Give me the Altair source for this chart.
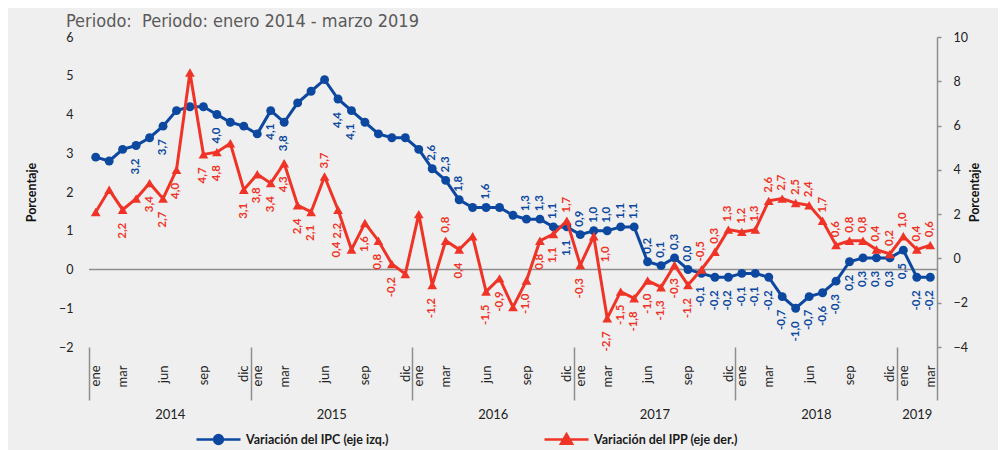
import altair as alt
import pandas as pd

# ---------------- data ----------------
months_es = ["ene", "feb", "mar", "abr", "may", "jun", "jul", "ago", "sep", "oct", "nov", "dic"]
shown_months = ["ene", "mar", "jun", "sep", "dic"]
first_year = 2014

ipc = [2.9, 2.8, 3.1, 3.2, 3.4, 3.7, 4.1, 4.2, 4.2, 4.0, 3.8, 3.7,
       3.5, 4.1, 3.8, 4.3, 4.6, 4.9, 4.4, 4.1, 3.8, 3.5, 3.4, 3.4,
       3.1, 2.6, 2.3, 1.8, 1.6, 1.6, 1.6, 1.4, 1.3, 1.3, 1.1, 1.1,
       0.9, 1.0, 1.0, 1.1, 1.1, 0.2, 0.1, 0.3, 0.0, -0.1, -0.2, -0.2,
       -0.1, -0.1, -0.2, -0.7, -1.0, -0.7, -0.6, -0.3, 0.2, 0.3, 0.3, 0.3,
       0.5, -0.2, -0.2]
ipc_labels = ["", "", "", "3,2", "", "3,7", "", "", "", "4,0", "", "",
              "", "4,1", "3,8", "", "", "", "4,4", "4,1", "", "", "", "",
              "", "2,6", "2,3", "1,8", "", "1,6", "", "", "1,3", "1,3", "1,1", "1,1",
              "0,9", "1,0", "1,0", "1,1", "1,1", "0,2", "0,1", "0,3", "0,0", "-0,1", "-0,2", "-0,2",
              "-0,1", "-0,1", "-0,2", "-0,7", "-1,0", "-0,7", "-0,6", "-0,3", "0,2", "0,3", "0,3", "0,3",
              "0,5", "-0,2", "-0,2"]
ipc_side = ["b", "b", "b", "b", "b", "b", "b", "b", "b", "b", "b", "b",
            "b", "b", "b", "b", "b", "b", "b", "b", "b", "b", "b", "b",
            "a", "a", "a", "a", "a", "a", "a", "a", "a", "a", "a", "b",
            "a", "a", "a", "a", "a", "a", "a", "a", "a", "b", "b", "b",
            "b", "b", "b", "b", "b", "b", "b", "b", "b", "b", "b", "b",
            "b", "b", "b"]

ipp = [2.1, 3.1, 2.2, 2.7, 3.4, 2.7, 4.0, 8.4, 4.7, 4.8, 5.2, 3.1,
       3.8, 3.4, 4.3, 2.4, 2.1, 3.7, 2.2, 0.4, 1.6, 0.8, -0.25, -0.7,
       2.0, -1.2, 0.8, 0.4, 1.0, -1.5, -0.9, -2.2, -1.0, 0.8, 1.1, 1.7,
       -0.3, 1.0, -2.7, -1.5, -1.8, -1.0, -1.3, -0.3, -1.2, -0.5, 0.3, 1.3,
       1.2, 1.3, 2.6, 2.7, 2.5, 2.4, 1.7, 0.6, 0.8, 0.8, 0.4, 0.2,
       1.0, 0.4, 0.6]
ipp_labels = ["", "", "2,2", "", "3,4", "2,7", "4,0", "", "4,7", "4,8", "", "3,1",
              "3,8", "3,4", "4,3", "2,4", "2,1", "3,7", "2,2", "0,4", "1,6", "0,8", "-0,2", "",
              "", "-1,2", "0,8", "0,4", "", "-1,5", "-0,9", "", "-1,0", "0,8", "1,1", "1,7",
              "-0,3", "1,0", "-2,7", "-1,5", "-1,8", "-1,0", "-1,3", "-0,3", "-1,2", "-0,5", "0,3", "1,3",
              "1,2", "1,3", "2,6", "2,7", "2,5", "2,4", "1,7", "0,6", "0,8", "0,8", "0,4", "0,2",
              "1,0", "0,4", "0,6"]
ipp_side = ["b", "b", "b", "b", "b", "b", "b", "b", "b", "b", "b", "b",
            "b", "b", "b", "b", "b", "a", "b", "l", "b", "b", "b", "b",
            "b", "b", "a", "b", "b", "b", "b", "b", "b", "b", "b", "a",
            "b", "r", "b", "b", "b", "b", "b", "b", "b", "a", "a", "a",
            "a", "a", "a", "a", "a", "a", "a", "a", "a", "a", "a", "a",
            "a", "a", "a"]

ipc_name = "Variación del IPC (eje izq.)"
ipp_name = "Variación del IPP (eje der.)"
title_text = "Periodo:\u00a0 Periodo: enero 2014 - marzo 2019"

# ---------------- derived tables ----------------
n = len(ipc)
idx = list(range(n))
df_ipc = pd.DataFrame({"i": idx, "v": ipc, "lab": ipc_labels, "side": ipc_side, "serie": ipc_name})
df_ipp = pd.DataFrame({"i": idx, "v": ipp, "lab": ipp_labels, "side": ipp_side, "serie": ipp_name})
df_zero = pd.DataFrame({"z": [0]})

month_vals = [i for i in idx if months_es[i % 12] in shown_months]
year_bounds = [-0.5] + [i - 0.5 for i in idx if i > 0 and i % 12 == 0] + [n - 0.5]

W, H = 848, 310
band = W / n
last_year_months = n - 12 * (len(year_bounds) - 2)

BLUE = "#0c48a0"
RED = "#ef3427"
GRAY = "#8e8e8e"
FONT = "Lato"

xscale = alt.Scale(domain=[-0.5, n - 0.5], nice=False, zero=False)
month_axis = alt.Axis(values=month_vals, labelExpr=f"{months_es}[datum.value % 12]",
                      labelAngle=270, labelPadding=18, ticks=False, domain=False, grid=False,
                      labelFlush=False, labelOverlap=False, labelFontSize=13, labelColor="#222222",
                      labelFont=FONT, title=None, orient="bottom")
year_axis = alt.Axis(values=year_bounds,
                     labelExpr=f"datum.value < {n - 1} ? '' + ({first_year} + floor((datum.value + 0.5) / 12)) : ''",
                     labelOffset={"condition": {"test": f"datum.value == {year_bounds[-2]}",
                                                "value": band * last_year_months / 2},
                                  "value": band * 6},
                     tickSize=53, tickColor=GRAY, tickWidth=1.5, domain=False, grid=False,
                     labelPadding=8, labelAngle=0, labelAlign="center", labelBaseline="top",
                     labelFlush=False, labelOverlap=False, labelFontSize=13, labelColor="#222222",
                     labelFont=FONT, title=None, orient="bottom")

x_m = alt.X("i:Q", scale=xscale, axis=month_axis)
x_y = alt.X("i:Q", scale=xscale, axis=year_axis)

yl_scale = alt.Scale(domain=[-2, 6], nice=False, zero=False)
yr_scale = alt.Scale(domain=[-4, 10], nice=False, zero=False)
yl_axis = alt.Axis(values=list(range(-2, 7)), ticks=False, domain=False, grid=False,
                   labelPadding=16, labelFontSize=12.5, labelColor="#222222", labelFont=FONT,
                   title="Porcentaje", titleFont=FONT, titleFontSize=12.5, titleFontWeight="bold",
                   titleAngle=270, titlePadding=20, titleColor="#111111", orient="left")
yr_axis = alt.Axis(values=list(range(-4, 11, 2)), ticks=True, tickSize=4, tickColor=GRAY, tickWidth=1.5,
                   domain=True, domainColor=GRAY, domainWidth=1.5, grid=False,
                   labelPadding=12, labelFontSize=12.5, labelColor="#222222", labelFont=FONT,
                   title="Porcentaje", titleFont=FONT, titleFontSize=12.5, titleFontWeight="bold",
                   titleAngle=270, titlePadding=14, titleColor="#111111", orient="right")

y_l = alt.Y("v:Q", scale=yl_scale, axis=yl_axis)
y_r = alt.Y("v:Q", scale=yr_scale, axis=yr_axis)

blue_sym = "M-1,0H1M0.2,0A0.2,0.2,0,1,1,-0.2,0A0.2,0.2,0,1,1,0.2,0Z"
red_sym = "M-1,0H1M0,-0.24L0.25,0.19L-0.25,0.19Z"


def legend(sym, color, lx):
    return alt.Legend(title=None, orient="none", legendX=lx, legendY=379, padding=0,
                      symbolType=sym, symbolSize=1936, symbolStrokeColor=color, symbolStrokeWidth=2.5,
                      symbolFillColor=color, labelFont=FONT, labelFontSize=12.5, labelFontWeight="bold",
                      labelColor="#1a1a1a", labelOffset=4, direction="horizontal")


def text_layers(df, x_enc, y_enc, color, sides):
    out = []
    for s in sides:
        kw = dict(angle=270, font=FONT, fontSize=11.5, fontWeight="bold", color=color)
        if s == "a":
            kw.update(align="left", baseline="middle", dx=8)
        elif s == "b":
            kw.update(align="right", baseline="middle", dx=-13)
        elif s == "l":
            kw.update(align="center", baseline="middle", dy=-14)
        else:
            kw.update(align="center", baseline="middle", dy=12, dx=-18)
        out.append(
            alt.Chart(df).transform_filter(f"datum.side == '{s}' && datum.lab != ''")
            .mark_text(**kw).encode(x=x_enc, y=y_enc, text="lab:N")
        )
    return out


zero_rule = alt.Chart(df_zero).mark_rule(color=GRAY, strokeWidth=1.5).encode(
    y=alt.Y("z:Q", scale=yl_scale, axis=yl_axis))

blue_line = alt.Chart(df_ipc).mark_line(color=BLUE, strokeWidth=3).encode(x=x_m, y=y_l)
blue_pts = alt.Chart(df_ipc).mark_point(filled=True, size=80, opacity=1, shape="circle").encode(
    x=x_m, y=y_l,
    color=alt.Color("serie:N", scale=alt.Scale(domain=[ipc_name], range=[BLUE]),
                    legend=legend(blue_sym, BLUE, 106)))
blue = alt.layer(zero_rule, blue_line, blue_pts, *text_layers(df_ipc, x_m, y_l, BLUE, ["a", "b"]))

red_line = alt.Chart(df_ipp).mark_line(color=RED, strokeWidth=3).encode(x=x_y, y=y_r)
red_pts = alt.Chart(df_ipp).mark_point(filled=True, size=95, opacity=1, shape="triangle-up").encode(
    x=x_y, y=y_r,
    color=alt.Color("serie:N", scale=alt.Scale(domain=[ipp_name], range=[RED]),
                    legend=legend(red_sym, RED, 454)))
red = alt.layer(red_line, red_pts, *text_layers(df_ipp, x_y, y_r, RED, ["a", "b", "l", "r"]))

chart = (
    alt.layer(blue, red)
    .resolve_scale(y="independent", color="independent")
    .resolve_axis(x="independent", y="independent")
    .properties(
        width=W, height=H,
        autosize=alt.AutoSizeParams(type="none"),
        padding={"left": 81, "top": 29, "right": 61, "bottom": 103},
        background="#efefef",
        title=alt.TitleParams(title_text, anchor="start", frame="group", dx=-23, offset=0,
                              font="DejaVu Sans Condensed, Roboto, sans-serif", fontSize=18,
                              fontWeight="normal", color="#5a5a5a"),
    )
    .configure_view(stroke=None)
)

chart.save("out.html", embed_options={"renderer": "svg", "actions": False})
